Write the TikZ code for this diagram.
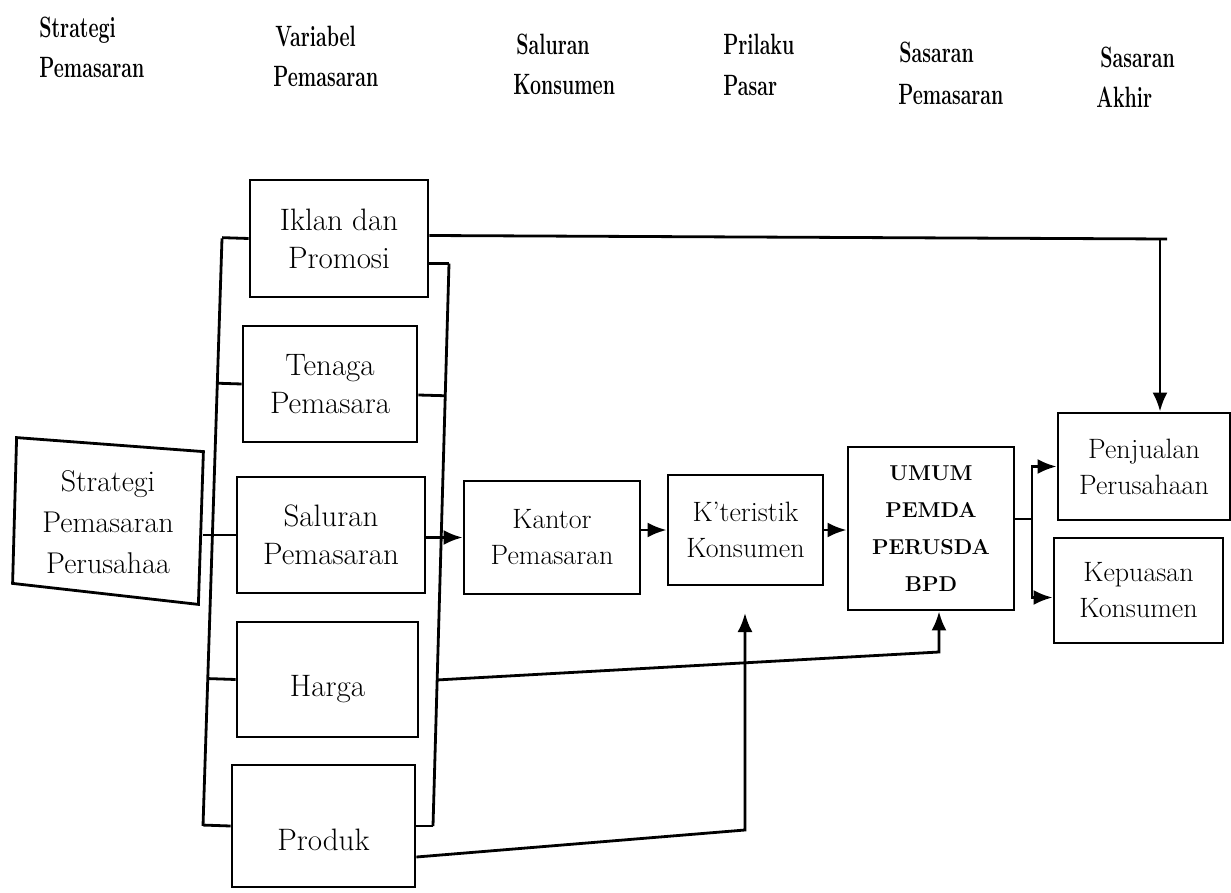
\documentclass[tikz,border=0pt]{standalone}
\usepackage{graphicx}
\usetikzlibrary{arrows.meta,calc}
\newcommand{\hdrtxt}[1]{\scalebox{0.7}[1.05]{\fontsize{28}{30}\selectfont\bfseries #1}}
\begin{document}
\begin{tikzpicture}[x=1pt,y=-1pt,line width=2.8pt,
  box/.style={draw,rectangle,align=center,inner sep=0pt,font=\fontsize{31}{38}\selectfont},
  boxs/.style={box,font=\fontsize{28}{36}\selectfont},
  hdr/.style={anchor=base west,inner sep=0pt},
  arr/.style={-{Latex[length=19pt,width=15pt]}}]
\fill[white] (0,0) rectangle (1231,893);
\useasboundingbox (0,0) rectangle (1231,893);

% headers
\node[hdr] (h1a) at (38,38) {\hdrtxt{Strategi}};
\node[hdr] (h1b) at (38,78) {\hdrtxt{Pemasaran}};
\node[hdr] (h2a) at (274,47) {\hdrtxt{Variabel}};
\node[hdr] (h2b) at (272,87) {\hdrtxt{Pemasaran}};
\node[hdr] (h3a) at (515,55) {\hdrtxt{Saluran}};
\node[hdr] (h3b) at (512,95) {\hdrtxt{Konsumen}};
\node[hdr] (h4a) at (722,55) {\hdrtxt{Prilaku}};
\node[hdr] (h4b) at (722,96) {\hdrtxt{Pasar}};
\node[hdr] (h5a) at (898,63) {\hdrtxt{Sasaran}};
\node[hdr] (h5b) at (897,105) {\hdrtxt{Pemasaran}};
\node[hdr] (h6a) at (1099,68) {\hdrtxt{Sasaran}};
\node[hdr] (h6b) at (1095,108) {\hdrtxt{Akhir}};

% variable boxes
\node[box,minimum width=178pt,minimum height=117pt] (iklan) at (339,238.5) {Iklan dan\\Promosi};
\node[box,minimum width=174pt,minimum height=116pt] (tenaga) at (330,384) {Tenaga\\Pemasara};
\node[box,minimum width=188pt,minimum height=116pt] (saluran) at (331,535) {Saluran\\Pemasaran};
\node[box,minimum width=181pt,minimum height=115pt] (harga) at (327.5,679.5) {\rule{0pt}{41pt}Harga};
\node[box,minimum width=183pt,minimum height=122pt] (produk) at (323.5,826) {\rule{0pt}{49pt}Produk};

% strategy box (slightly skewed)
\node[box,draw=none,minimum width=188pt,minimum height=150pt,font=\fontsize{30}{41}\selectfont] (strat) at (108,522) {Strategi\\Pemasaran\\Perusahaa};
\draw ($(strat.north west)+(4,-8)$) -- ($(strat.north east)+(0,6)$) -- ($(strat.south east)+(-5,6)$) -- ($(strat.south west)+(0,-15)$) -- cycle;

% chain boxes
\node[boxs,minimum width=176pt,minimum height=113pt] (kantor) at (552,537.5) {Kantor\\Pemasaran};
\node[boxs,minimum width=155pt,minimum height=110pt] (kter) at (745.5,530) {K'teristik\\Konsumen};
\node[box,minimum width=166pt,minimum height=163pt,font=\fontsize{21.5}{37}\selectfont\bfseries] (umum) at (931,528.5) {UMUM\\PEMDA\\PERUSDA\\BPD};
\node[boxs,minimum width=172pt,minimum height=107pt] (penj) at (1144,466.5) {Penjualan\\Perusahaan};
\node[boxs,minimum width=169pt,minimum height=105pt] (kepu) at (1138.5,590.5) {Kepuasan\\Konsumen};

% left bus
\coordinate (lx1) at (222,0);
\coordinate (lx2) at (203,0);
\coordinate (lbT) at (iklan.west -| lx1);
\coordinate (lbB) at (produk.west -| lx2);
\draw (lbT) -- (lbB);
\foreach \n in {iklan,tenaga,harga,produk}
  \draw ($(lbT)!(\n.west)!(lbB)$) -- (\n.west);
\draw (strat.east |- saluran.west) -- (saluran.west);

% right bus
\coordinate (rx1) at (449,0);
\coordinate (rx2) at (433,0);
\coordinate (iklanR) at ($(iklan.east)+(0,25)$);
\coordinate (tenR) at ($(tenaga.east)+(0,11)$);
\coordinate (rbT) at (iklanR -| rx1);
\coordinate (rbB) at (produk.east -| rx2);
\draw (rbT) -- (rbB);
\draw (iklanR) -- (rbT);
\draw (tenR) -- ($(rbT)!(tenR)!(rbB)$);
\draw (produk.east) -- (rbB);

% main chain
\draw[arr] (saluran.east |- kantor.west) -- (kantor.west);
\draw[arr] (kter.west -| kantor.east) -- (kter.west);
\draw[arr] (kter.east) -- (kter.east -| umum.west);

% harga to umum
\coordinate (hS) at ($(rbT)!(harga.east)!(rbB)$);
\coordinate (hb) at (939,652);
\draw[arr] (hS) -- (hb) -- (hb |- umum.south);

% produk to karakteristik
\coordinate (pS) at ($(produk.east)+(0,31)$);
\coordinate (pb) at (745,830);
\coordinate (ptip) at (745,613);
\draw[arr] (pS) -- (pb) -- (ptip);

% iklan to penjualan
\coordinate (iS) at ($(iklan.east)+(0,-3)$);
\coordinate (ic) at (1160,239);
\coordinate (ice) at (1167,239);
\draw (iS) -- (ice);
\draw[arr] (ic) -- (ic |- penj.north);

% fork to final goals
\coordinate (fk) at (1032,519);
\coordinate (kw) at ($(kepu.west)+(0,7)$);
\draw (umum.east |- fk) -- (fk);
\draw[arr] (fk) -- (fk |- penj.west) -- (penj.west);
\draw[arr] (fk) -- (fk |- kw) -- (kw);
\end{tikzpicture}
\end{document}
